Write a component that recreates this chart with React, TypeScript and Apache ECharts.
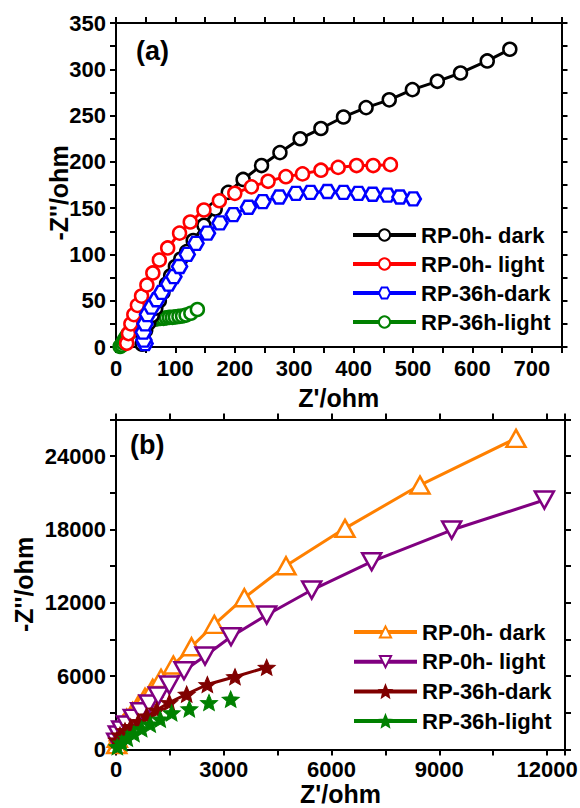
import React, { useEffect, useRef } from 'react';
import * as echarts from 'echarts';

// ---------- Panel (a) ----------
const namesA = ['RP-0h- dark', 'RP-0h- light', 'RP-36h-dark', 'RP-36h-light'];
const colorsA = ['#000000', '#ff0000', '#0000ff', '#008000'];

const aDarkX = [44, 46, 50, 55, 61, 67, 73, 79, 85, 92, 100, 109, 119, 130, 148, 167, 189, 214, 245, 276, 310, 345, 383, 421, 460, 499, 541, 580, 625, 663];
const aDarkY = [3, 10, 18, 26, 34, 42, 50, 59, 68, 77, 87, 95, 103, 115, 131.5, 149, 167, 181, 196, 210, 225, 236, 248.5, 258.6, 267, 278, 287, 296, 309, 321.6];

const aLightX = [18, 21, 25, 30, 36, 43, 52, 62, 73, 87, 107, 125, 148, 174, 200, 228, 256, 286, 314, 345, 374, 405, 433, 462];
const aLightY = [4, 14.5, 25, 35, 45, 55, 67, 80, 94, 107, 123, 135, 148, 158, 166, 173, 179, 184, 187, 191, 194, 196, 196, 197];

const a36DarkX = [49, 47, 46, 49, 53, 60, 68.5, 77, 88.6, 97.5, 107, 120, 134.7, 154, 175, 197.5, 223, 247, 275, 303, 327.5, 356, 383, 408, 432, 457, 478, 500.5];
const a36DarkY = [3.7, 7.5, 16, 25, 35, 43, 51, 59, 68, 76, 87, 100, 112, 123, 134, 143, 151, 157, 162, 166, 167, 168, 167, 166, 165, 164, 162, 160];

const a36LightX = [7, 10, 12, 14, 17, 20, 24, 28, 32, 36, 40, 45, 50, 55, 60, 65, 70, 75, 80, 85, 90, 95, 100, 106, 112, 118, 126, 137];
const a36LightY = [0.5, 2, 4.5, 7.5, 10.5, 13.5, 16.5, 19.5, 22, 24, 26, 27.5, 28.5, 29, 29.5, 30, 30.5, 31, 31, 31.5, 32, 32, 32.5, 33, 33.5, 34.5, 36.5, 40.5];

// ---------- Panel (b) ----------
const namesB = ['RP-0h- dark', 'RP-0h- light', 'RP-36h-dark', 'RP-36h-light'];
const colorsB = ['#ff8000', '#800080', '#800000', '#008000'];

const bDarkX = [20, 37, 93, 186, 297, 464, 621, 807, 1021, 1253, 1596, 2102, 2737, 3573, 4733, 6375, 8463, 11136];
const bDarkY = [400, 916, 1456, 2004, 2552, 3092, 3640, 4270, 5006, 5824, 6912, 8410, 10241, 12418, 15035, 18094, 21637, 25456];

const bLightX = [20, 65, 158, 297, 482, 688, 919, 1178, 1484, 1893, 2478, 3202, 4195, 5448, 7118, 9345, 11925];
const bLightY = [600, 1186, 1595, 2004, 2552, 3092, 3722, 4376, 5276, 6446, 7648, 9227, 11002, 13048, 15366, 17955, 20410];

const b36DarkX = [20, 111, 250, 409, 621, 854, 1133, 1484, 1968, 2543, 3313, 4195];
const b36DarkY = [777, 1186, 1538, 1865, 2274, 2740, 3231, 3845, 4528, 5317, 5955, 6724];

const b36LightX = [37, 158, 315, 501, 715, 954, 1232, 1550, 2041, 2589, 3193];
const b36LightY = [229, 530, 916, 1296, 1693, 2073, 2483, 2998, 3327, 3845, 4118];

// ---------- styling ----------
const FONT = "Arial, 'Liberation Sans', Helvetica, sans-serif";
const HEX = 'path://M-10,0 L-5,-8.66 L5,-8.66 L10,0 L5,8.66 L-5,8.66 Z';
const STAR = 'path://M0,-10 L2.645,-3.641 L9.511,-3.09 L4.28,1.391 L5.878,8.09 L0,4.5 L-5.878,8.09 L-4.28,1.391 L-9.511,-3.09 L-2.645,-3.641 Z';

const zip = (xs: number[], ys: number[]) => xs.map((x, i) => [x, ys[i]]);

const labelStyle = { color: '#000', fontSize: 22, lineHeight: 22, fontWeight: 'bold' as const, fontFamily: FONT };
const nameStyle = { color: '#000', fontSize: 25, lineHeight: 25, fontWeight: 'bold' as const, fontFamily: FONT };

function makeAxis(
  pos: 'bottom' | 'top' | 'left' | 'right',
  min: number,
  max: number,
  interval: number,
  labelEvery: number | null,
  name?: string,
  nameGap?: number,
  namePadding?: number[],
  labelMargin = 10
) {
  const ax: any = {
    type: 'value',
    position: pos,
    min,
    max,
    interval,
    axisLine: { show: true, onZero: false, lineStyle: { color: '#000', width: 2 } },
    axisTick: { show: true, inside: false, length: 6, lineStyle: { color: '#000', width: 2 } },
    splitLine: { show: false },
    axisLabel: labelEvery
      ? {
          show: true,
          margin: labelMargin,
          ...labelStyle,
          formatter: (v: number) => (Math.abs(v % labelEvery) < 1e-9 ? String(v) : ''),
        }
      : { show: false },
  };
  if (name) {
    ax.name = name;
    ax.nameLocation = 'middle';
    ax.nameGap = nameGap;
    ax.nameMoveOverlap = false;
    ax.nameTextStyle = { ...nameStyle, padding: namePadding || [0, 0, 0, 0] };
  }
  return ax;
}

function openSeries(name: string, color: string, data: number[][], symbol: string, size: any, rotate = 0, lineWidth = 3) {
  return {
    type: 'line',
    name,
    data,
    symbol,
    symbolSize: size,
    symbolRotate: rotate,
    showSymbol: true,
    showAllSymbol: true,
    itemStyle: { color: '#ffffff', borderColor: color, borderWidth: 2.5 },
    lineStyle: { color, width: lineWidth },
    emphasis: { disabled: true },
  };
}

function dotSeries(color: string, data: number[][]) {
  return {
    type: 'scatter',
    data,
    symbol: 'circle',
    symbolSize: 3,
    silent: true,
    itemStyle: { color },
    emphasis: { disabled: true },
  };
}

function starSeries(name: string, color: string, data: number[][], lineWidth: number) {
  return {
    type: 'line',
    name,
    data,
    symbol: STAR,
    symbolSize: [17, 16],
    showSymbol: true,
    showAllSymbol: true,
    itemStyle: { color, borderColor: color, borderWidth: 1 },
    lineStyle: { color, width: lineWidth },
    emphasis: { disabled: true },
  };
}

function innerStar(data: number[][]) {
  return {
    type: 'scatter',
    data,
    symbol: STAR,
    symbolSize: [6, 6],
    silent: true,
    itemStyle: { color: 'rgba(0,0,0,0)', borderColor: '#ffffff', borderWidth: 0.7 },
    emphasis: { disabled: true },
  };
}

const legendBase = {
  orient: 'vertical',
  padding: 0,
  itemWidth: 63,
  itemHeight: 14,
  textStyle: { color: '#000', fontSize: 22, fontWeight: 'bold', fontFamily: FONT },
  lineStyle: { width: 4 },
  selectedMode: false,
};

const dA = zip(aDarkX, aDarkY);
const lA = zip(aLightX, aLightY);
const d36A = zip(a36DarkX, a36DarkY);
const l36A = zip(a36LightX, a36LightY);

const optionA: any = {
  animation: false,
  backgroundColor: 'transparent',
  grid: { left: 116, top: 23, width: 445.5, height: 324, containLabel: false, outerBoundsMode: 'none' },
  xAxis: [
    makeAxis('bottom', 0, 750, 50, 100, "Z'/ohm", 38),
    makeAxis('top', 0, 750, 50, null),
  ],
  yAxis: [
    makeAxis('left', 0, 350, 25, 50, "-Z''/ohm", 45, [0, 16, 0, 0]),
    makeAxis('right', 0, 350, 25, null),
  ],
  legend: { ...legendBase, left: 351, top: 224, itemGap: 7, data: namesA },
  graphic: [
    {
      type: 'text',
      left: 136,
      top: 37,
      style: { text: '(a)', fill: '#000', fontSize: 27, fontWeight: 'bold', fontFamily: FONT },
    },
  ],
  series: [
    openSeries(namesA[3], colorsA[3], l36A, 'circle', 13),
    dotSeries(colorsA[3], l36A),
    openSeries(namesA[0], colorsA[0], dA, 'circle', 13),
    dotSeries(colorsA[0], dA),
    openSeries(namesA[1], colorsA[1], lA, 'circle', 13),
    dotSeries(colorsA[1], lA),
    openSeries(namesA[2], colorsA[2], d36A, HEX, [15, 13]),
    dotSeries(colorsA[2], d36A),
  ],
};

const dB = zip(bDarkX, bDarkY);
const lB = zip(bLightX, bLightY);
const d36B = zip(b36DarkX, b36DarkY);
const l36B = zip(b36LightX, b36LightY);

const optionB: any = {
  animation: false,
  backgroundColor: 'transparent',
  grid: { left: 116, top: 19.5, width: 449, height: 330, containLabel: false, outerBoundsMode: 'none' },
  xAxis: [
    makeAxis('bottom', 0, 12500, 1500, 3000, "Z'/ohm", 32, undefined, 9),
    makeAxis('top', 0, 12500, 1500, null),
  ],
  yAxis: [
    makeAxis('left', 0, 27000, 3000, 6000, "-Z''/ohm", 80),
    makeAxis('right', 0, 27000, 3000, null),
  ],
  legend: {
    ...legendBase,
    left: 352,
    top: 221,
    itemGap: 7.7,
    data: [
      namesB[0],
      namesB[1],
      namesB[2],
      { name: namesB[3], lineStyle: { width: 4, color: colorsB[3] } },
    ],
  },
  graphic: [
    {
      type: 'text',
      left: 130,
      top: 31,
      style: { text: '(b)', fill: '#000', fontSize: 27, fontWeight: 'bold', fontFamily: FONT },
    },
  ],
  series: [
    openSeries(namesB[0], colorsB[0], dB, 'triangle', [19, 17]),
    dotSeries(colorsB[0], dB),
    openSeries(namesB[1], colorsB[1], lB, 'triangle', [19, 17], 180),
    dotSeries(colorsB[1], lB),
    starSeries(namesB[2], colorsB[2], d36B, 3),
    innerStar(d36B),
    starSeries(namesB[3], colorsB[3], l36B, 0),
    innerStar(l36B),
  ],
};

export default function App() {
  const refA = useRef<HTMLDivElement>(null);
  const refB = useRef<HTMLDivElement>(null);

  useEffect(() => {
    document.body.style.margin = '0';
    const a = echarts.init(refA.current as HTMLDivElement, null, { renderer: 'svg' });
    a.setOption(optionA);
    const b = echarts.init(refB.current as HTMLDivElement, null, { renderer: 'svg' });
    b.setOption(optionB);
    return () => {
      a.dispose();
      b.dispose();
    };
  }, []);

  return (
    <div style={{ position: 'relative', width: 580, height: 808, background: '#ffffff', overflow: 'hidden' }}>
      <div ref={refA} style={{ position: 'absolute', left: 0, top: 0, width: 580, height: 415 }} />
      <div ref={refB} style={{ position: 'absolute', left: 0, top: 400, width: 580, height: 408 }} />
    </div>
  );
}
